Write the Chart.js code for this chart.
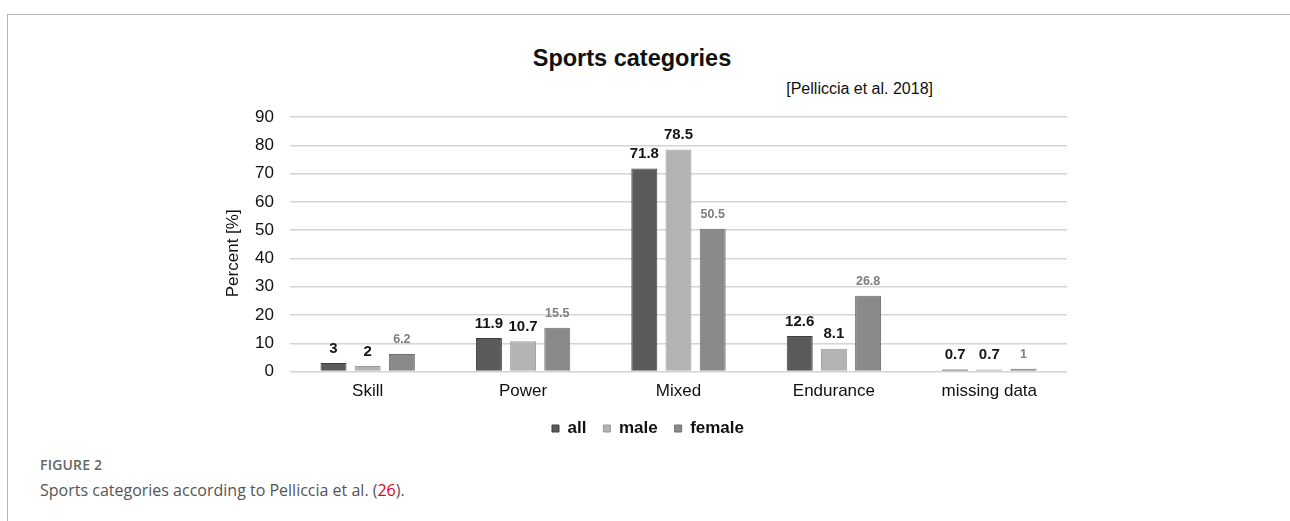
<!DOCTYPE html>
<html>
<head>
<meta charset="utf-8">
<title>Sports categories</title>
<script src="https://cdn.jsdelivr.net/npm/chart.js@4/dist/chart.umd.min.js"></script>
<style>
  html, body { margin: 0; padding: 0; background: #fff; }
  body { width: 1290px; height: 521px; position: relative; overflow: hidden; }
  .frame {
    position: absolute; left: 7px; top: 14px; right: -10px; bottom: -10px;
    border-top: 1px solid #b4b4b4; border-left: 1px solid #b4b4b4;
  }
  .title {
    position: absolute; left: 432px; width: 400px; top: 44px;
    text-align: center; font: bold 23.5px/28px "Liberation Sans", Arial, sans-serif; color: #111;
  }
  .source {
    position: absolute; right: 357px; top: 79px; text-align: right;
    font: 16px/20px "Liberation Sans", Arial, sans-serif; color: #111;
  }
  #wrap { position: absolute; left: 200px; top: 90px; width: 880px; height: 362px; }
  .fig-label {
    position: absolute; left: 40px; top: 455px;
    font: 600 14px/20px "Open Sans", sans-serif; color: #666; letter-spacing: 0.2px;
  }
  .fig-caption {
    position: absolute; left: 40px; top: 479px;
    font: 16px/22px "Open Sans", sans-serif; color: #555;
  }
  .fig-caption span { color: #e2001a; }
</style>
</head>
<body>
<div class="frame"></div>
<div class="title">Sports categories</div>
<div class="source">[Pelliccia et al. 2018]</div>
<div id="wrap"><canvas id="chart" width="880" height="362"></canvas></div>
<div class="fig-label">FIGURE 2</div>
<div class="fig-caption">Sports categories according to Pelliccia et al. (<span>26</span>).</div>

<script>
// Share of athletes per sports category, in percent
const categories = ['Skill', 'Power', 'Mixed', 'Endurance', 'missing data'];
const seriesNames = ['all', 'male', 'female'];
const allValues = [3, 11.9, 71.8, 12.6, 0.7];
const maleValues = [2, 10.7, 78.5, 8.1, 0.7];
const femaleValues = [6.2, 15.5, 50.5, 26.8, 1];
const yMin = 0, yMax = 90, yStep = 10;
const yTitle = 'Percent [%]';

const FONT = '"Liberation Sans", Arial, sans-serif';

const fills = ['#5a5a5a', '#b3b3b3', '#8a8a8a'];
const edges = ['#3e3e3e', '#9b9b9b', '#6f6f6f'];
const labelStyles = [
  { font: 'bold 15px ' + FONT, color: '#151515' },
  { font: 'bold 15px ' + FONT, color: '#151515' },
  { font: 'bold 12.5px ' + FONT, color: '#7e7e7e' }
];

// value labels above each bar
const valueLabels = {
  id: 'valueLabels',
  afterDatasetsDraw(chart) {
    const ctx = chart.ctx;
    chart.data.datasets.forEach((ds, di) => {
      const meta = chart.getDatasetMeta(di);
      const st = labelStyles[di];
      ctx.save();
      ctx.font = st.font;
      ctx.fillStyle = st.color;
      ctx.textAlign = 'center';
      ctx.textBaseline = 'middle';
      meta.data.forEach((bar, i) => {
        ctx.fillText(String(ds.data[i]), bar.x, bar.y - 14.5);
      });
      ctx.restore();
    });
  }
};

// rotated y-axis title
const axisTitle = {
  id: 'axisTitle',
  afterDraw(chart) {
    const { ctx, chartArea } = chart;
    ctx.save();
    ctx.translate(chartArea.left - 56.5, (chartArea.top + chartArea.bottom) / 2 + 9);
    ctx.rotate(-Math.PI / 2);
    ctx.font = '17px ' + FONT;
    ctx.fillStyle = '#111';
    ctx.textAlign = 'center';
    ctx.textBaseline = 'middle';
    ctx.fillText(yTitle, 0, 0);
    ctx.restore();
  }
};

const values = [allValues, maleValues, femaleValues];

new Chart(document.getElementById('chart'), {
  type: 'bar',
  data: {
    labels: categories,
    datasets: seriesNames.map((name, i) => ({
      label: name,
      data: values[i],
      backgroundColor: fills[i],
      borderColor: edges[i],
      borderWidth: 1,
      categoryPercentage: 0.66,
      barPercentage: 0.76
    }))
  },
  options: {
    responsive: false,
    devicePixelRatio: 1,
    animation: false,
    layout: { padding: { left: 29, right: 13, top: 27, bottom: 5 } },
    plugins: {
      title: { display: false },
      tooltip: { enabled: false },
      legend: {
        position: 'bottom',
        labels: {
          boxWidth: 7,
          boxHeight: 7,
          padding: 17,
          color: '#111',
          font: { family: FONT, size: 17, weight: 'bold' }
        }
      }
    },
    scales: {
      x: {
        afterFit(scale) { scale.height = 31.4; },
        grid: { display: false, drawTicks: false },
        border: { display: false },
        ticks: { color: '#111', padding: 10, font: { family: FONT, size: 17 } }
      },
      y: {
        min: yMin,
        max: yMax,
        afterFit(scale) { scale.width = 61; },
        grid: { color: '#d4d4d4', lineWidth: 1.5, drawTicks: false },
        border: { display: false },
        ticks: { stepSize: yStep, color: '#111', padding: 16, font: { family: FONT, size: 17 } }
      }
    }
  },
  plugins: [valueLabels, axisTitle]
});
</script>
</body>
</html>
